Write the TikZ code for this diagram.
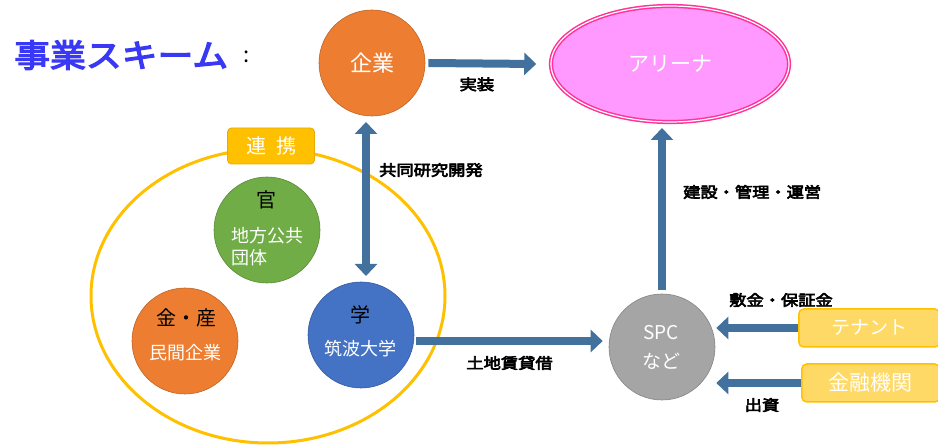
\documentclass[tikz,border=0pt]{standalone}
\usepackage{fontspec}
\setmainfont{Noto Sans CJK JP}
\newfontfamily\jpb{Noto Sans CJK JP}[FakeBold=4,FakeStretch=1.15]
\newfontfamily\jpt{Noto Sans CJK JP}[FakeBold=4,FakeStretch=1.12]
\usetikzlibrary{arrows.meta,shapes.geometric}
\definecolor{arrowblue}{HTML}{41719C}
\definecolor{korange}{HTML}{ED7D31}
\definecolor{kgreen}{HTML}{70AD47}
\definecolor{kblue}{HTML}{4472C4}
\definecolor{kgrey}{HTML}{A5A5A5}
\definecolor{kyellow}{HTML}{FFC000}
\definecolor{lyellow}{HTML}{FFD966}
\definecolor{kpink}{HTML}{FF99FF}
\definecolor{kmag}{HTML}{FF3399}
\definecolor{ktitle}{HTML}{3838F5}
\tikzset{
  bubble/.style={circle, minimum size=106pt, inner sep=0pt, align=center, text=white, draw=#1!80!black, line width=0.6pt, fill=#1},
  wtxt/.style={text=white, inner sep=0pt, font=\fontsize{18}{20}\selectfont},
  btxt/.style={text=black, inner sep=0pt, font=\fontsize{20}{22}\selectfont},
  flow/.style={draw=arrowblue, line width=8pt, -{Triangle[length=12pt,width=22pt]}},
  flowboth/.style={draw=arrowblue, line width=8pt, {Triangle[length=12pt,width=22pt]}-{Triangle[length=12pt,width=22pt]}},
  lbl/.style={font=\jpb\fontsize{15}{17}\selectfont, text=black, inner sep=1pt},
  tag/.style={draw=kyellow, fill=lyellow, line width=1.5pt, rounded corners=5pt, text=white, minimum height=38pt, anchor=west}
}
\begin{document}
\begin{tikzpicture}[x=1pt,y=-1pt]
\useasboundingbox (0,0) rectangle (938,446);
% title
\node[anchor=west, text=ktitle, font=\jpt\fontsize{32}{34}\selectfont, inner sep=0pt] (title) at (14,55) {事業スキーム};
\node[anchor=center, font=\fontsize{22}{24}\selectfont, inner sep=0pt] (colon) at (247,57) {:};
% big yellow ellipse
\node[ellipse, draw=kyellow, line width=3pt, minimum width=354pt, minimum height=294pt, inner sep=0pt] (ring) at (268,296) {};
\node[draw=kyellow!90!black, fill=kyellow, rounded corners=4pt, line width=0.8pt, text=white, minimum width=87pt, minimum height=36pt, font=\fontsize{20}{22}\selectfont] (renkei) at (271,146) {連\hspace{0.5em}携};
% nodes
\node[bubble=korange, font=\fontsize{22}{24}\selectfont] (kigyo) at (372,63) {企業};
\node[ellipse, double=white, double distance=1.2pt, draw=kmag, line width=1.5pt, fill=kpink, minimum width=238pt, minimum height=116pt, text=white, font=\fontsize{21}{23}\selectfont] (arena) at (670,64) {アリーナ};
\node[bubble=kgreen] (kan) at (267,230) {};
\node[btxt] (kant) at (266,200) {官};
\node[wtxt, anchor=west] (kan2) at (231,236) {地方公共};
\node[wtxt, anchor=west] (kan3) at (231,258) {団体};
\node[bubble=korange] (kinsan) at (185,341) {};
\node[btxt] (kinsant) at (186,318) {金・産};
\node[wtxt] (kinsan2) at (185,353) {民間企業};
\node[bubble=kblue] (gaku) at (361,335) {};
\node[btxt] (gakut) at (360,315) {学};
\node[wtxt] (gaku2) at (360,349) {筑波大学};
\node[bubble=kgrey] (spc) at (662,347) {};
\node[wtxt, font=\fontsize{19}{21}\selectfont] (spc1) at (661,333) {SPC};
\node[wtxt, font=\fontsize{19}{21}\selectfont] (spc2) at (661,361) {など};
\node[tag, minimum width=141pt, font=\fontsize{19}{21}\selectfont] (tenant) at (798,328) {テナント};
\node[tag, minimum width=138pt, font=\fontsize{21}{23}\selectfont] (bank) at (801,383) {金融機関};
% arrows
\draw[flow] ([xshift=3pt]kigyo.east) -- ([xshift=-14pt]arena.west) node[pos=0.45, below=9pt, lbl] (l1) {実装};
\draw[flowboth] (366,122) -- (366,276) coordinate (gtop);
\node[lbl, anchor=west] (l2) at (378,170) {共同研究開発};
\draw[flow] ([xshift=2pt]gaku.east |- 0,341) -- ([xshift=-6pt]spc.west |- 0,341) node[pos=0.5, below=10pt, lbl] (l3) {土地賃貸借};
\draw[flow] (spc.north |- 0,290) -- (spc.north |- 0,128) coordinate (atop);
\node[lbl, anchor=west] (l4) at (682,192) {建設・管理・運営};
\draw[flow] (tenant.west) -- ([xshift=1pt]spc.east |- tenant.west);
\node[lbl] (l5) at (781,300) {敷金・保証金};
\draw[flow] (bank.west) -- ([xshift=1pt]spc.east |- bank.west);
\node[lbl] (l6) at (762,405) {出資};
\end{tikzpicture}
\end{document}
